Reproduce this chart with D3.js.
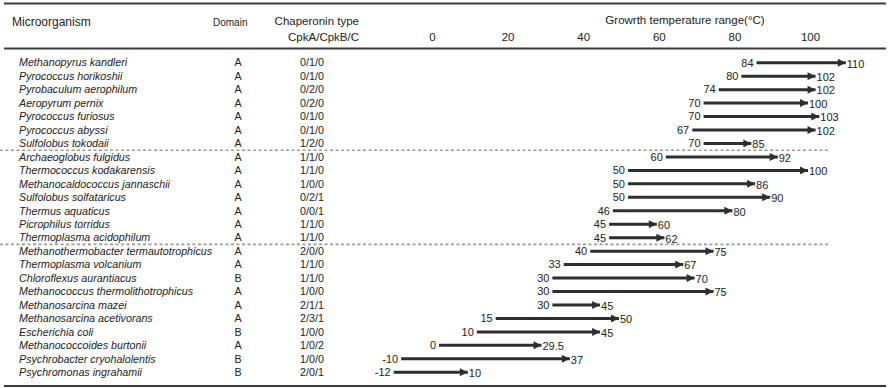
<!DOCTYPE html>
<html>
<head>
<meta charset="utf-8">
<script src="https://cdn.jsdelivr.net/npm/d3@7"></script>
<style>
  body { margin: 0; background: #fff; }
  svg { font-family: "Liberation Sans", Arial, Helvetica, sans-serif; }
</style>
</head>
<body>
<svg id="chart" width="889" height="388"></svg>
<script>
// table rows, top to bottom
var organisms = ["Methanopyrus kandleri", "Pyrococcus horikoshii", "Pyrobaculum aerophilum", "Aeropyrum pernix",
  "Pyrococcus furiosus", "Pyrococcus abyssi", "Sulfolobus tokodaii", "Archaeoglobus fulgidus",
  "Thermococcus kodakarensis", "Methanocaldococcus jannaschii", "Sulfolobus solfataricus", "Thermus aquaticus",
  "Picrophilus torridus", "Thermoplasma acidophilum", "Methanothermobacter termautotrophicus", "Thermoplasma volcanium",
  "Chloroflexus aurantiacus", "Methanococcus thermolithotrophicus", "Methanosarcina mazei", "Methanosarcina acetivorans",
  "Escherichia coli", "Methanococcoides burtonii", "Psychrobacter cryohalolentis", "Psychromonas ingrahamii"];
var domains = ["A","A","A","A","A","A","A","A","A","A","A","A","A","A","A","A","B","A","A","A","B","A","B","B"];
var chaperonins = ["0/1/0","0/1/0","0/2/0","0/2/0","0/1/0","0/1/0","1/2/0","1/1/0","1/1/0","1/0/0","0/2/1","0/0/1",
  "1/1/0","1/1/0","2/0/0","1/1/0","1/1/0","1/0/0","2/1/1","2/3/1","1/0/0","1/0/2","1/0/0","2/0/1"];
var tmin = [84, 80, 74, 70, 70, 67, 70, 60, 50, 50, 50, 46, 45, 45, 40, 33, 30, 30, 30, 15, 10, 0, -10, -12];
var tmax = [110, 102, 102, 100, 103, 102, 85, 92, 100, 86, 90, 80, 60, 62, 75, 67, 70, 75, 45, 50, 45, 29.5, 37, 10];
var tempTicks = [0, 20, 40, 60, 80, 100];
var groupBreaks = [7, 14]; // dashed line drawn before these rows

var svg = d3.select("#chart");
var ink = "#2e2e2e";

var x = d3.scaleLinear().domain([0, 100]).range([432, 810]);
var y = d3.scaleBand().domain(d3.range(organisms.length)).range([56, 379]);
var mid = function(i) { return y(i) + y.bandwidth() / 2; };

// rules
[3.5, 48.5, 386].forEach(function(ry) {
  svg.append("line").attr("x1", 4).attr("x2", 886).attr("y1", ry).attr("y2", ry)
    .attr("stroke", "#3a3a3a").attr("stroke-width", 1.8);
});

// header
var head = svg.append("g").attr("fill", "#222");
head.append("text").attr("x", 12).attr("y", 26).attr("font-size", 12).text("Microorganism");
head.append("text").attr("x", 213).attr("y", 26).attr("font-size", 10).text("Domain");
head.append("text").attr("x", 359).attr("y", 25).attr("font-size", 11.5).attr("text-anchor", "end").text("Chaperonin type");
head.append("text").attr("x", 359).attr("y", 41).attr("font-size", 11.5).attr("text-anchor", "end").text("CpkA/CpkB/C");
head.append("text").attr("x", 685).attr("y", 24).attr("font-size", 11.5).attr("text-anchor", "middle")
  .text("Growrth temperature range(°C)");

var axis = d3.axisTop(x).tickValues(tempTicks).tickSize(0).tickPadding(0);
var ag = svg.append("g").attr("transform", "translate(0,37)").call(axis);
ag.select(".domain").remove();
ag.selectAll("text").attr("font-size", 11.5).attr("fill", "#222")
  .attr("font-family", "\"Liberation Sans\", Arial, sans-serif").attr("dy", "0.35em");

// group separators
svg.selectAll("line.sep").data(groupBreaks).enter().append("line")
  .attr("class", "sep")
  .attr("x1", 0).attr("x2", 829)
  .attr("y1", function(d) { return y(d); })
  .attr("y2", function(d) { return y(d); })
  .attr("stroke", "#9a9a9a").attr("stroke-width", 1.6).attr("stroke-dasharray", "3,2.5");

// table columns
var rows = svg.append("g").attr("font-size", 10.7).attr("fill", "#222");
rows.selectAll("text.org").data(organisms).enter().append("text")
  .attr("x", 19).attr("y", function(d, i) { return mid(i); }).attr("dy", "0.35em")
  .attr("font-style", "italic").text(function(d) { return d; });
rows.selectAll("text.dom").data(domains).enter().append("text")
  .attr("x", 238).attr("y", function(d, i) { return mid(i); }).attr("dy", "0.35em")
  .attr("text-anchor", "middle").text(function(d) { return d; });
rows.selectAll("text.chap").data(chaperonins).enter().append("text")
  .attr("x", 312).attr("y", function(d, i) { return mid(i); }).attr("dy", "0.35em")
  .attr("text-anchor", "middle").text(function(d) { return d; });

// arrows
svg.append("defs").append("marker")
  .attr("id", "head").attr("viewBox", "0 0 10 10")
  .attr("refX", 10).attr("refY", 5)
  .attr("markerWidth", 10).attr("markerHeight", 8)
  .attr("markerUnits", "userSpaceOnUse").attr("orient", "auto")
  .append("path").attr("d", "M0,0 L10,5 L0,10 Z").attr("fill", ink);

var arr = svg.append("g");
arr.selectAll("line.rng").data(tmin).enter().append("line")
  .attr("x1", function(d) { return x(d) + 7; })
  .attr("x2", function(d, i) { return x(tmax[i]) - 2; })
  .attr("y1", function(d, i) { return mid(i); })
  .attr("y2", function(d, i) { return mid(i); })
  .attr("stroke", ink).attr("stroke-width", 3)
  .attr("marker-end", "url(#head)");

arr.selectAll("text.lo").data(tmin).enter().append("text")
  .attr("x", function(d) { return x(d) + 4; })
  .attr("y", function(d, i) { return mid(i); }).attr("dy", "0.35em")
  .attr("text-anchor", "end").attr("font-size", 11).attr("fill", "#222")
  .text(function(d) { return d; });
arr.selectAll("text.hi").data(tmax).enter().append("text")
  .attr("x", function(d) { return x(d) - 1; })
  .attr("y", function(d, i) { return mid(i) + 1; }).attr("dy", "0.35em")
  .attr("font-size", 11).attr("fill", "#222")
  .text(function(d) { return d; });
</script>
</body>
</html>
